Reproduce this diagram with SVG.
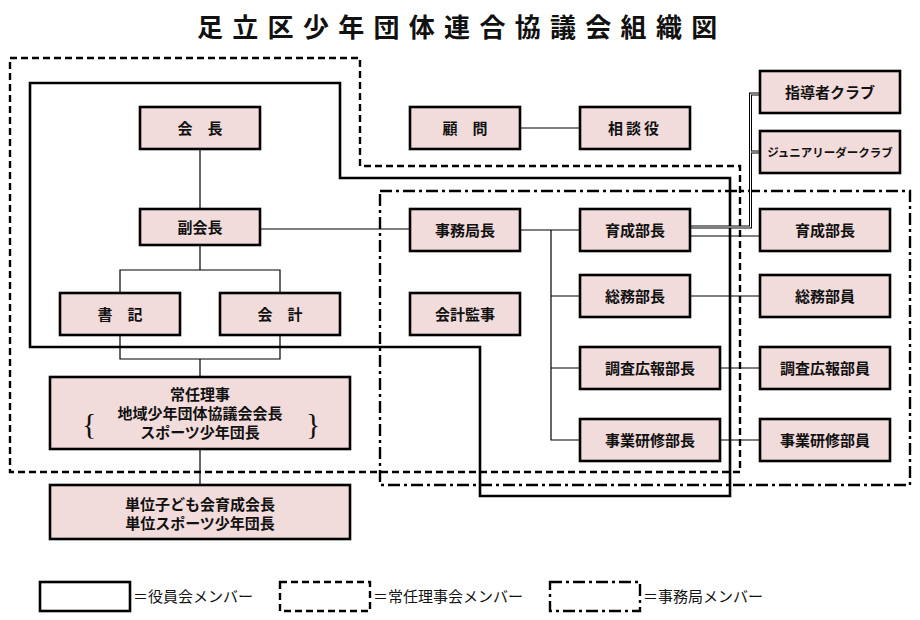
<svg xmlns="http://www.w3.org/2000/svg" width="920" height="620" viewBox="0 0 920 620">
<style>
.box{fill:#F2DCDB;stroke:#000;stroke-width:2.6}
.t{font-family:"Liberation Sans","Noto Sans CJK JP",sans-serif;font-size:15px;font-weight:bold;fill:#111;text-anchor:middle}
.s{font-size:11.5px}
.c{fill:none;stroke:#000;stroke-width:1.2}
.solid{fill:none;stroke:#000;stroke-width:2.6}
.dash{fill:none;stroke:#000;stroke-width:2.4;stroke-dasharray:7 4}
.dd{fill:none;stroke:#000;stroke-width:2.4;stroke-dasharray:12 4 3 4}
.lg{font-family:"Liberation Sans","Noto Sans CJK JP",sans-serif;font-size:15px;fill:#111}
.br{font-family:"Liberation Serif",serif;font-size:30px;fill:#111}
</style>
<rect width="920" height="620" fill="#fff"/>
<text x="197" y="37" font-family="'Liberation Serif','Noto Sans CJK JP',serif" font-size="26" font-weight="bold" letter-spacing="9.3" fill="#111">足立区少年団体連合協議会組織図</text>

<g id="regions">
<path class="dash" d="M10,58 H360 V166 H740 V472 H10 Z"/>
<path class="solid" d="M30,83 H340 V178 H730 V496 H480 V347 H30 Z"/>
<rect class="dd" x="380" y="191" width="530" height="294"/>
</g>

<g id="connectors">
<path class="c" d="M200,149 V209"/>
<path class="c" d="M200,245 V270 M120,293 V270 H280 V293"/>
<path class="c" d="M120,335 V359 H280 V335 M200,359 V377"/>
<path class="c" d="M200,449 V485"/>
<path class="c" d="M260,229 H410"/>
<path class="c" d="M520,128 H580"/>
<path class="c" d="M520,230 H580 M551,230 V440 H580 M551,296 H580 M551,368 H580"/>
<path d="M690,227 H750.5 V94 H760 M750.5,152 H760" fill="none" stroke="#000" stroke-width="3"/>
<path d="M690,227 H750.5 V94 H760 M750.5,152 H760" fill="none" stroke="#fff" stroke-width="1"/>
<path class="c" d="M690,236 H760"/>
<path class="c" d="M690,296 H760"/>
<path class="c" d="M720,368 H760"/>
<path class="c" d="M720,440 H760"/>
</g>

<g id="kaicho"><rect class="box" x="140" y="107" width="120" height="42"/><text class="t" x="200" y="133.5">会　長</text></g>
<g id="fukukaicho"><rect class="box" x="140" y="209" width="120" height="36"/><text class="t" x="200" y="232.5">副会長</text></g>
<g id="shoki"><rect class="box" x="60" y="293" width="120" height="42"/><text class="t" x="120" y="319.5">書　記</text></g>
<g id="kaikei"><rect class="box" x="220" y="293" width="120" height="42"/><text class="t" x="280" y="319.5">会　計</text></g>
<g id="joninriji"><rect class="box" x="50" y="377" width="300" height="72"/>
<text class="t" x="200" y="400">常任理事</text>
<text class="t" x="200" y="419">地域少年団体協議会会長</text>
<text class="t" x="200" y="438">スポーツ少年団長</text>
<text class="br" x="82" y="434">{</text>
<text class="br" x="306" y="434">}</text>
</g>
<g id="tani"><rect class="box" x="50" y="485" width="300" height="54"/>
<text class="t" x="200" y="510">単位子ども会育成会長</text>
<text class="t" x="200" y="529">単位スポーツ少年団長</text>
</g>
<g id="komon"><rect class="box" x="410" y="107" width="110" height="42"/><text class="t" x="465" y="133.5">顧　問</text></g>
<g id="sodanyaku"><rect class="box" x="580" y="107" width="110" height="42"/><text class="t" x="635" y="133.5" letter-spacing="3">相談役</text></g>
<g id="jimukyokucho"><rect class="box" x="410" y="209" width="110" height="42"/><text class="t" x="465" y="235.5">事務局長</text></g>
<g id="kaikeikanji"><rect class="box" x="410" y="293" width="110" height="42"/><text class="t" x="465" y="319.5">会計監事</text></g>
<g id="ikuseibucho"><rect class="box" x="580" y="209" width="110" height="42"/><text class="t" x="635" y="235.5">育成部長</text></g>
<g id="somubucho"><rect class="box" x="580" y="275" width="110" height="42"/><text class="t" x="635" y="301.5">総務部長</text></g>
<g id="chosabucho"><rect class="box" x="580" y="347" width="140" height="42"/><text class="t" x="650" y="373.5">調査広報部長</text></g>
<g id="jigyobucho"><rect class="box" x="580" y="419" width="140" height="42"/><text class="t" x="650" y="445.5">事業研修部長</text></g>
<g id="shidoshaclub"><rect class="box" x="760" y="71" width="140" height="42"/><text class="t" x="830" y="97.5">指導者クラブ</text></g>
<g id="juniorclub"><rect class="box" x="760" y="131" width="140" height="42"/><text class="t s" x="830" y="156.5">ジュニアリーダークラブ</text></g>
<g id="ikuseibucho2"><rect class="box" x="760" y="209" width="130" height="42"/><text class="t" x="825" y="235.5">育成部長</text></g>
<g id="somubuin"><rect class="box" x="760" y="275" width="130" height="42"/><text class="t" x="825" y="301.5">総務部員</text></g>
<g id="chosabuin"><rect class="box" x="760" y="347" width="130" height="42"/><text class="t" x="825" y="373.5">調査広報部員</text></g>
<g id="jigyobuin"><rect class="box" x="760" y="419" width="130" height="42"/><text class="t" x="825" y="445.5">事業研修部員</text></g>

<g id="legend">
<rect class="solid" x="40" y="582" width="90" height="29"/>
<text class="lg" x="133" y="602">＝役員会メンバー</text>
<rect class="dash" x="280" y="582" width="90" height="29"/>
<text class="lg" x="373" y="602">＝常任理事会メンバー</text>
<rect class="dd" x="550" y="582" width="90" height="29"/>
<text class="lg" x="643" y="602">＝事務局メンバー</text>
</g>
</svg>
